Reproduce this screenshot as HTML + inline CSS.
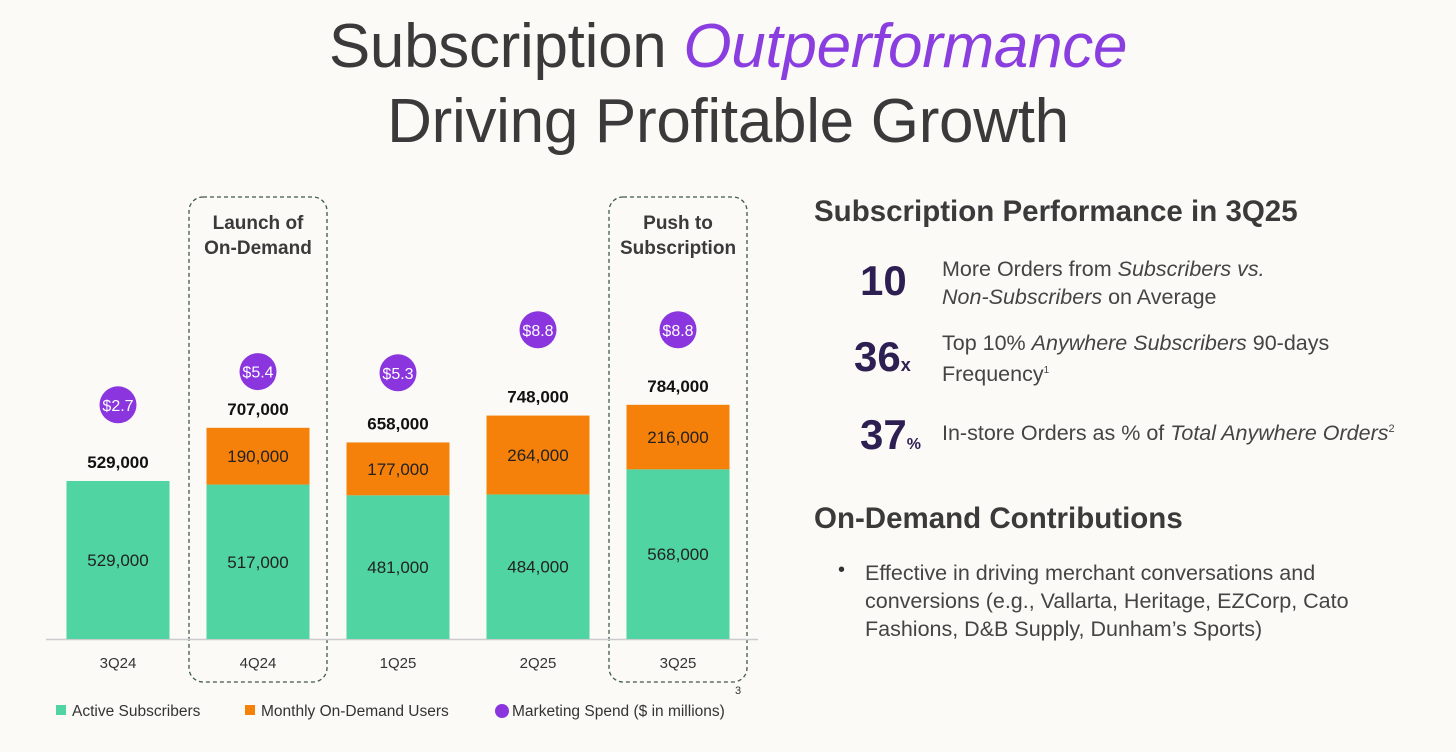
<!DOCTYPE html>
<html><head><meta charset="utf-8"><style>
body{margin:0;width:1456px;height:752px;background:#fbfaf6;font-family:"Liberation Sans",sans-serif;color:#333;overflow:hidden;position:relative}
.t{position:absolute;left:0;width:1456px;text-align:center;font-size:62px;color:#3a3a3a;letter-spacing:-0.3px}
.abs{position:absolute}
</style></head><body>
<div class="t" style="top:11px">Subscription <i style="color:#8a3ee0">Outperformance</i></div>
<div class="t" style="top:86px">Driving Profitable Growth</div>
<svg class="abs" style="left:0;top:0" width="800" height="752">
<g id="g"></g>
</svg>
<div class="abs" style="left:814px;top:195px;width:630px">
<div style="font-size:29.5px;font-weight:bold;color:#3a3a3a">Subscription Performance in 3Q25</div>
<div class="abs" style="left:46px;top:62px;font-size:42px;font-weight:bold;color:#2e1f52">10</div>
<div class="abs" style="left:128px;top:60px;font-size:21.5px;line-height:28px;color:#444">More Orders from <i>Subscribers vs.</i><br><i>Non-Subscribers</i> on Average</div>
<div class="abs" style="left:40px;top:138px;font-size:42px;font-weight:bold;color:#2e1f52">36<span style="font-size:18px">x</span></div>
<div class="abs" style="left:128px;top:134px;font-size:21.5px;line-height:28px;color:#444">Top 10% <i>Anywhere Subscribers</i> 90-days<br>Frequency<sup style="font-size:10px">1</sup></div>
<div class="abs" style="left:46px;top:216px;font-size:42px;font-weight:bold;color:#2e1f52">37<span style="font-size:16px">%</span></div>
<div class="abs" style="left:128px;top:226px;font-size:21.5px;color:#444">In-store Orders as % of <i>Total Anywhere Orders</i><sup style="font-size:11px">2</sup></div>
<div class="abs" style="left:0;top:307px;font-size:29.5px;font-weight:bold;color:#3a3a3a">On-Demand Contributions</div>
<div class="abs" style="left:24px;top:364px;font-size:20px">•</div>
<div class="abs" style="left:51px;top:364px;font-size:21.5px;line-height:28px;color:#444">Effective in driving merchant conversations and<br>conversions (e.g., Vallarta, Heritage, EZCorp, Cato<br>Fashions, D&amp;B Supply, Dunham’s Sports)</div>
</div>
<script>
const categories=["3Q24","4Q24","1Q25","2Q25","3Q25"];
const activeSubscribers=[529000,517000,481000,484000,568000];
const onDemandUsers=[0,190000,177000,264000,216000];
const totals=[529000,707000,658000,748000,784000];
const marketingSpend=[2.7,5.4,5.3,8.8,8.8];
const highlights=[{i:1,lines:["Launch of","On-Demand"]},{i:4,lines:["Push to","Subscription"]}];
const NS="http://www.w3.org/2000/svg",g=document.getElementById('g');
const base=639,x0=118,step=140,bw=103;
const yv=v=>base-v*0.0002987;
const ys=v=>438-v*12.3;
const xc=i=>x0+i*step;
const fmt=v=>v.toLocaleString('en-US');
function mk(t,a,txt){const e=document.createElementNS(NS,t);for(const k in a)e.setAttribute(k,a[k]);if(txt!=null)e.textContent=txt;g.appendChild(e);return e;}
highlights.forEach(h=>{
 const r=mk('rect',{x:xc(h.i)-69,y:197,width:138,height:485,rx:14,fill:'none',stroke:'#3f5a48','stroke-width':1.3,'stroke-dasharray':'4,3'});
 
 
 h.lines.forEach((l,k)=>{const t=mk('text',{x:xc(h.i),y:229+k*25,'text-anchor':'middle','font-size':19,'font-weight':'bold',fill:'#3a3a3a'},l);
 
 });
});
mk('line',{x1:46,x2:758,y1:639.5,y2:639.5,stroke:'#ccc','stroke-width':1.5});
categories.forEach((c,i)=>{
 const x=xc(i)-bw/2;
 const ga=yv(activeSubscribers[i]);
 const b1=mk('rect',{x:x,y:ga,width:bw,height:base-ga,fill:'#50d4a2'});
 
 
 const t1=mk('text',{x:xc(i),y:(ga+base)/2+6,'text-anchor':'middle','font-size':17,fill:'#222'},fmt(activeSubscribers[i]));
 
 
 if(onDemandUsers[i]>0){
  const go=yv(activeSubscribers[i]+onDemandUsers[i]);
  const b2=mk('rect',{x:x,y:go,width:bw,height:ga-go,fill:'#f5800a'});
  
  
  const t2=mk('text',{x:xc(i),y:(go+ga)/2+6,'text-anchor':'middle','font-size':17,fill:'#222'},fmt(onDemandUsers[i]));
  
  
 }
 const tt=mk('text',{x:xc(i),y:yv(totals[i])-13,'text-anchor':'middle','font-size':17,'font-weight':'bold',fill:'#111'},fmt(totals[i]));
 
 
 const cy=ys(marketingSpend[i]);
 const ci=mk('circle',{cx:xc(i),cy:cy,r:18.5,fill:'#8a35de'});
 
 
 const st=mk('text',{x:xc(i),y:cy+6,'text-anchor':'middle','font-size':16,fill:'#fff'},'$'+marketingSpend[i].toFixed(1));
 
 
 const xl=mk('text',{x:xc(i),y:668,'text-anchor':'middle','font-size':15,fill:'#333'},c);
 
 
});
const leg=[["rect",56,"#50d4a2","Active Subscribers"],["rect",245,"#f5800a","Monthly On-Demand Users"],["circle",496,"#8a35de","Marketing Spend ($ in millions)"]];
leg.forEach(l=>{
 const m=l[0]==="rect"?mk('rect',{x:l[1],y:705,width:10,height:10,fill:l[2]}):mk('circle',{cx:l[1]+6,cy:711,r:7,fill:l[2]});
 
 
 const t=mk('text',{x:l[1]+16,y:716,'font-size':15.5,fill:'#333'},l[3]);
 
 
});
const sup=mk('text',{x:735,y:694,'font-size':11,fill:'#333'},'3');


</script>
</body></html>
